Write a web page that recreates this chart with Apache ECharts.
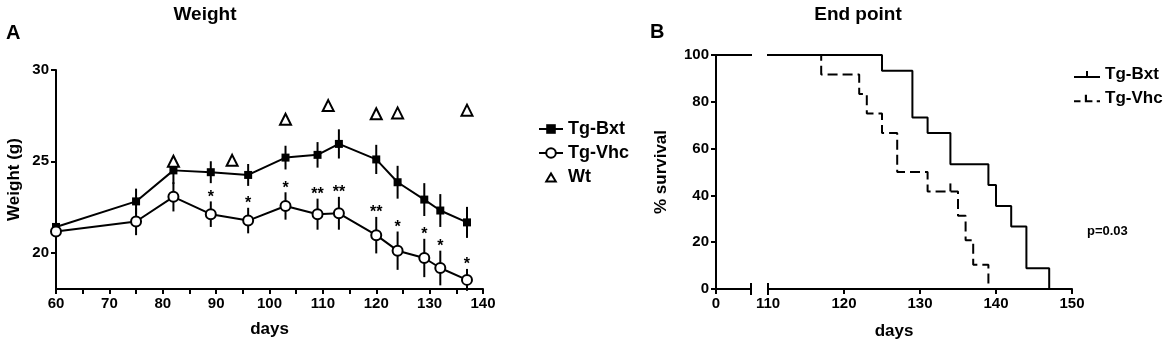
<!DOCTYPE html>
<html>
<head>
<meta charset="utf-8">
<script src="https://cdn.jsdelivr.net/npm/echarts@6/dist/echarts.min.js"></script>
<style>
  html, body { margin: 0; background: #fff; }
  #main { width: 1165px; height: 350px; }
</style>
</head>
<body>
<div id="main"></div>
<script>
// Panel A — body weight over time (mean ± SEM)
const days = [60, 75, 82, 89, 96, 103, 109, 113, 120, 124, 129, 132, 137];
const bxtWeight = [21.4, 22.8, 24.5, 24.4, 24.25, 25.2, 25.35, 25.95, 25.1, 23.85, 22.9, 22.3, 21.65];
const bxtErr = [0.1, 0.7, 0.75, 0.6, 0.6, 0.65, 0.7, 0.8, 0.8, 0.9, 0.9, 0.9, 0.85];
const vhcWeight = [21.15, 21.7, 23.05, 22.1, 21.75, 22.55, 22.1, 22.15, 20.95, 20.1, 19.7, 19.15, 18.5];
const vhcErr = [0.1, 0.75, 0.8, 0.7, 0.7, 0.75, 0.85, 0.9, 1.0, 1.05, 1.05, 0.95, 0.6];
const vhcSig = ["", "", "", "*", "*", "*", "**", "**", "**", "*", "*", "*", "*"];
const wtDays = [82, 93, 103, 111, 120, 124, 137];
const wtWeight = [25.0, 25.05, 27.3, 28.05, 27.6, 27.65, 27.8];

// Panel B — Kaplan-Meier survival (step at each event day)
const bxtDays = [0, 125, 129, 131, 134, 139, 140, 142, 144, 147];
const bxtSurv = [100, 93.3, 73.3, 66.7, 53.3, 44.4, 35.5, 26.7, 8.9, 0];
const vhcDays = [0, 117, 122, 123, 125, 127, 131, 135, 136, 137, 139];
const vhcSurv = [100, 91.7, 83.3, 75, 66.7, 50, 41.7, 31.3, 20.8, 10.4, 0];
const vhcCensorDays = [134];
const vhcCensorSurv = [41.7];

const FONT = "'Liberation Sans', Arial, sans-serif";
const BLACK = "#000";

const zip = (xs, ys) => xs.map((x, i) => [x, ys[i]]);

function errorBars(name, means, errs, sig) {
  return {
    name: name + "-err",
    type: "custom",
    xAxisIndex: 0,
    yAxisIndex: 0,
    z: 1,
    silent: true,
    data: days.map((d, i) => [d, means[i], errs[i]]),
    renderItem(params, api) {
      const x = api.value(0), m = api.value(1), e = api.value(2);
      const top = api.coord([x, m + e]);
      const bot = api.coord([x, m - e]);
      const children = [{
        type: "line",
        shape: { x1: top[0], y1: top[1], x2: bot[0], y2: bot[1] },
        style: { stroke: BLACK, lineWidth: 2 }
      }];
      const s = sig ? sig[params.dataIndex] : "";
      if (s) {
        children.push({
          type: "text",
          x: top[0],
          y: top[1] - 4,
          style: { text: s, fill: BLACK, font: "bold 16px " + FONT, align: "center", verticalAlign: "middle" }
        });
      }
      return { type: "group", children };
    }
  };
}

const axisLine = { lineStyle: { color: BLACK, width: 2 } };
const axisTick = { lineStyle: { color: BLACK, width: 2 }, length: 5 };
const axisLabel = { color: BLACK, fontFamily: FONT, fontWeight: "bold", fontSize: 15, margin: 7 };
const nameStyle = { color: BLACK, fontFamily: FONT, fontWeight: "bold", fontSize: 17 };

// legend glyphs (hollow triangle drawn as a filled outline)
const ICON_TRI = "path://M0,0 M24,12 M12,0.5L18.5,11.5H5.5Z M12,4.5L8.9,9.5H15.1Z";
const ICON_SOLID = "path://M0,9h26v2h-26z M12,4h2v5h-2z";
const ICON_DASH = "path://M0,9h6v2h-6z M10,4h2v5h5v2h-7z M21,9h3v2h-3z";

const chart = echarts.init(document.getElementById("main"), null, { renderer: "canvas" });

chart.setOption({
  animation: false,
  backgroundColor: "#fff",
  textStyle: { fontFamily: FONT },
  graphic: [
    { type: "text", x: 205, y: 15, style: { text: "Weight", font: "bold 19px " + FONT, fill: BLACK, align: "center", verticalAlign: "middle" } },
    { type: "text", x: 6, y: 33, style: { text: "A", font: "bold 20px " + FONT, fill: BLACK, verticalAlign: "middle" } },
    { type: "text", x: 858, y: 15, style: { text: "End point", font: "bold 19px " + FONT, fill: BLACK, align: "center", verticalAlign: "middle" } },
    { type: "text", x: 650, y: 32, style: { text: "B", font: "bold 20px " + FONT, fill: BLACK, verticalAlign: "middle" } },
    { type: "text", x: 894, y: 331, style: { text: "days", font: "bold 17px " + FONT, fill: BLACK, align: "center", verticalAlign: "middle" } },
    { type: "text", x: 1087, y: 231, style: { text: "p=0.03", font: "bold 13px " + FONT, fill: BLACK, verticalAlign: "middle" } }
  ],
  legend: [
    {
      left: 533, top: 115, orient: "vertical",
      itemWidth: 24, itemHeight: 12, itemGap: 6,
      textStyle: { color: BLACK, fontFamily: FONT, fontWeight: "bold", fontSize: 18 },
      data: [
        "Tg-Bxt",
        "Tg-Vhc",
        { name: "Wt", icon: ICON_TRI, itemStyle: { color: BLACK, borderWidth: 0 } }
      ]
    },
    {
      left: 1069, top: 61, orient: "vertical",
      itemWidth: 26, itemHeight: 12, itemGap: 7,
      textStyle: { color: BLACK, fontFamily: FONT, fontWeight: "bold", fontSize: 17 },
      data: [
        { name: "Tg-Bxt ", icon: ICON_SOLID, itemStyle: { color: BLACK, borderWidth: 0 } },
        { name: "Tg-Vhc ", icon: ICON_DASH, itemStyle: { color: BLACK, borderWidth: 0 } }
      ]
    }
  ],
  grid: [
    { left: 56, width: 427, top: 70, height: 219 },
    { left: 716, width: 35, top: 55, height: 234 },
    { left: 768, width: 304, top: 55, height: 234 }
  ],
  xAxis: [
    {
      gridIndex: 0, type: "value", min: 60, max: 140, interval: 5,
      name: "days", nameLocation: "middle", nameGap: 32, nameTextStyle: nameStyle,
      axisLine, axisTick, splitLine: { show: false },
      axisLabel: { ...axisLabel, formatter: v => (v % 10 === 0 ? String(v) : "") }
    },
    {
      gridIndex: 1, type: "value", min: 0, max: 5,
      axisLine: { ...axisLine, symbol: ["none", "rect"], symbolSize: [12, 2] },
      axisTick: { ...axisTick, customValues: [0] },
      axisLabel: { ...axisLabel, customValues: [0] },
      splitLine: { show: false }
    },
    {
      gridIndex: 2, type: "value", min: 110, max: 150, interval: 10,
      axisLine: { ...axisLine, symbol: ["rect", "none"], symbolSize: [12, 2] },
      axisTick, axisLabel, splitLine: { show: false }
    }
  ],
  yAxis: [
    {
      gridIndex: 0, type: "value", min: 18, max: 30,
      name: "Weight (g)", nameLocation: "middle", nameGap: 33, nameTextStyle: nameStyle,
      axisLine: { ...axisLine, show: true },
      axisTick: { ...axisTick, customValues: [20, 25, 30] },
      axisLabel: { ...axisLabel, customValues: [20, 25, 30] },
      splitLine: { show: false }
    },
    {
      gridIndex: 1, type: "value", min: 0, max: 100, interval: 20,
      name: "% survival", nameLocation: "middle", nameGap: 46, nameTextStyle: nameStyle,
      axisLine: { ...axisLine, show: true }, axisTick, axisLabel,
      splitLine: { show: false }
    },
    { gridIndex: 2, type: "value", min: 0, max: 100, show: false, splitLine: { show: false } }
  ],
  series: [
    errorBars("Tg-Bxt", bxtWeight, bxtErr, null),
    errorBars("Tg-Vhc", vhcWeight, vhcErr, vhcSig),
    {
      name: "Tg-Bxt", type: "line", xAxisIndex: 0, yAxisIndex: 0, z: 3,
      data: zip(days, bxtWeight),
      symbol: "rect", symbolSize: 8,
      itemStyle: { color: BLACK },
      lineStyle: { color: BLACK, width: 2 }
    },
    {
      name: "Tg-Vhc", type: "line", xAxisIndex: 0, yAxisIndex: 0, z: 3,
      data: zip(days, vhcWeight),
      symbol: "emptyCircle", symbolSize: 10,
      itemStyle: { color: BLACK, borderWidth: 2.5 },
      lineStyle: { color: BLACK, width: 2 }
    },
    {
      name: "Wt", type: "scatter", xAxisIndex: 0, yAxisIndex: 0, z: 4,
      data: zip(wtDays, wtWeight),
      symbol: "triangle", symbolSize: 11,
      itemStyle: { color: "#fff", borderColor: BLACK, borderWidth: 2, opacity: 1 }
    },
    // survival, left segment of the broken axis
    {
      name: "Tg-Vhc ", type: "line", xAxisIndex: 1, yAxisIndex: 1, step: "end",
      data: zip(vhcDays, vhcSurv), symbol: "none",
      itemStyle: { color: BLACK },
      lineStyle: { color: BLACK, width: 2, type: [10, 5] }
    },
    {
      name: "Tg-Bxt ", type: "line", xAxisIndex: 1, yAxisIndex: 1, step: "end",
      data: zip(bxtDays, bxtSurv), symbol: "none",
      itemStyle: { color: BLACK },
      lineStyle: { color: BLACK, width: 2 }
    },
    // survival, right segment
    {
      name: "Tg-Vhc ", type: "line", xAxisIndex: 2, yAxisIndex: 2, step: "end",
      data: zip(vhcDays, vhcSurv), symbol: "none",
      itemStyle: { color: BLACK },
      lineStyle: { color: BLACK, width: 2, type: [10, 5] }
    },
    {
      name: "Tg-Bxt ", type: "line", xAxisIndex: 2, yAxisIndex: 2, step: "end",
      data: zip(bxtDays, bxtSurv), symbol: "none",
      itemStyle: { color: BLACK },
      lineStyle: { color: BLACK, width: 2 }
    },
    {
      name: "censored", type: "scatter", xAxisIndex: 2, yAxisIndex: 2,
      data: zip(vhcCensorDays, vhcCensorSurv),
      symbol: "rect", symbolSize: [2, 8], symbolOffset: [0, -4],
      itemStyle: { color: BLACK, opacity: 1 }
    }
  ]
});
</script>
</body>
</html>
